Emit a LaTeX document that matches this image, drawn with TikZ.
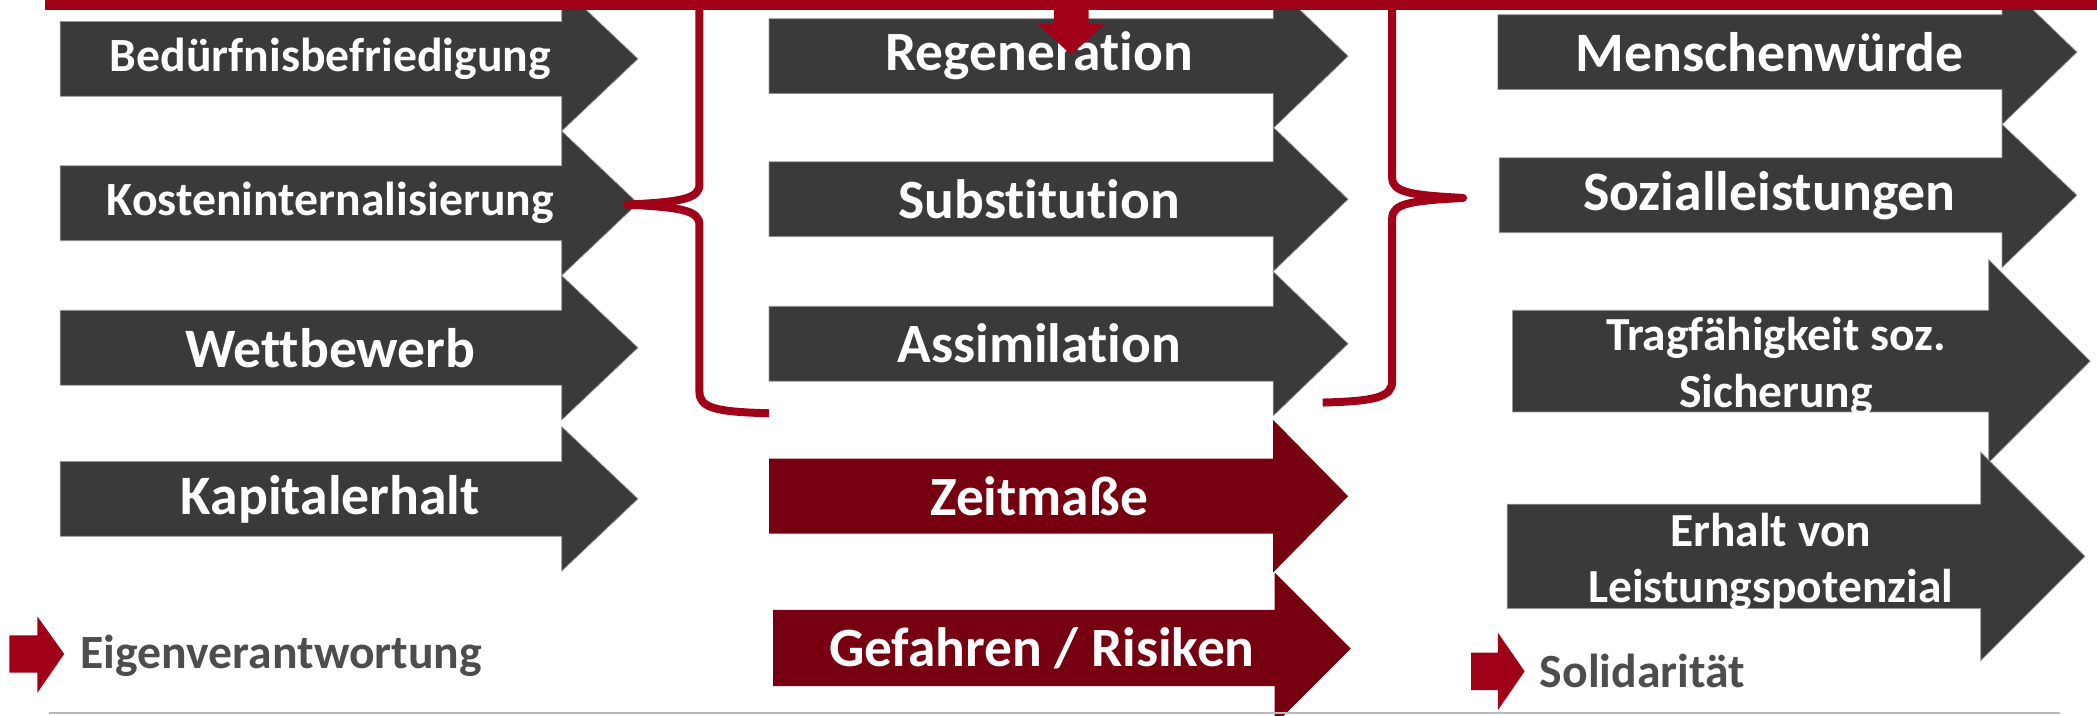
\documentclass[tikz,border=0pt]{standalone}
\usepackage{fontspec}
\setmainfont{Carlito}[Ligatures={NoCommon,NoRare}]
\definecolor{grau}{RGB}{58,58,58}
\definecolor{rot}{RGB}{160,0,24}
\definecolor{dunkelrot}{RGB}{118,0,16}
\definecolor{schrift}{RGB}{77,77,77}

\begin{document}
\begin{tikzpicture}[x=0.02cm,y=-0.02cm,
    txt/.style={text=white,align=center,inner sep=0pt},
    rand/.style={draw=gray!80,line width=0.3pt},
    klammer/.style={rot,line width=3.4pt,line join=round}]
  \useasboundingbox (0,0) rectangle (1568,535);
  \clip (0,0) rectangle (1568,535);

  % linke Spalte
  \foreach \n/\y/\s/\t in {bed/44/20.3/Bedürfnisbefriedigung,kost/152/20.3/Kosteninternalisierung,
      wett/260/23.7/Wettbewerb,kap/373/23.7/Kapitalerhalt} {
    \filldraw[grau,rand] (45,\y-28) -- (420,\y-28) -- (420,\y-54) -- (477,\y)
      -- (420,\y+54) -- (420,\y+28) -- (45,\y+28) -- cycle;
    \node[txt,font=\bfseries\fontsize{\s}{\s}\selectfont] (\n) at (247,\y) {\t};
  }

  % mittlere Spalte
  \foreach \n/\y/\t in {reg/42/Regeneration,sub/149/Substitution,ass/257/Assimilation} {
    \filldraw[grau,rand] (575,\y-28) -- (952,\y-28) -- (952,\y-54) -- (1008,\y)
      -- (952,\y+54) -- (952,\y+28) -- (575,\y+28) -- cycle;
    \node[txt,font=\bfseries\fontsize{23.6}{23.6}\selectfont] (\n) at (777,\y) {\t};
  }
  \fill[dunkelrot] (575,343) -- (952,343) -- (952,314) -- (1008,371)
    -- (952,428) -- (952,399) -- (575,399) -- cycle;
  \node[txt,font=\bfseries\fontsize{23.6}{23.6}\selectfont] (zeit) at (777,371) {Zeitmaße};
  \fill[dunkelrot] (578,456) -- (953,456) -- (953,428) -- (1010,485)
    -- (953,542) -- (953,513) -- (578,513) -- cycle;
  \node[txt,font=\bfseries\fontsize{23.6}{23.6}\selectfont] (gef) at (779,485) {Gefahren / Risiken};

  % rechte Spalte
  \filldraw[grau,rand] (1120,11) -- (1497,11) -- (1497,-15) -- (1553,39)
    -- (1497,93) -- (1497,67) -- (1120,67) -- cycle;
  \node[txt,font=\bfseries\fontsize{23.7}{23.7}\selectfont] (mensch) at (1323,39) {Menschenwürde};
  \filldraw[grau,rand] (1121,118) -- (1497,118) -- (1497,93) -- (1553,146)
    -- (1497,200) -- (1497,174) -- (1121,174) -- cycle;
  \node[txt,font=\bfseries\fontsize{23.7}{23.7}\selectfont] (sozial) at (1323,146) {Sozialleistungen};
  \filldraw[grau,rand] (1131,232) -- (1487,232) -- (1487,194) -- (1563,270)
    -- (1487,346) -- (1487,308) -- (1131,308) -- cycle;
  \node[txt,font=\bfseries\fontsize{20.2}{24}\selectfont] (trag) at (1328,274) {Tragfähigkeit soz.\\Sicherung};
  \filldraw[grau,rand] (1127,377) -- (1481,377) -- (1481,338) -- (1559,416)
    -- (1481,494) -- (1481,455) -- (1127,455) -- cycle;
  \node[txt,font=\bfseries\fontsize{20.2}{24}\selectfont] (erhalt) at (1324,420) {Erhalt von\\Leistungspotenzial};

  % Balken, Pfeil und Klammern
  \fill[rot] (34,0) rectangle (1568,7.5);
  \fill[rot] (788,0) -- (814,0) -- (814,18) -- (826,18) -- (801,41) -- (776,18) -- (788,18) -- cycle;
  \draw[klammer] (523,4) -- (523,138) .. controls (523,149) and (508,151) .. (469,153)
    .. controls (508,155) and (523,157) .. (523,168) -- (523,293)
    .. controls (523,305) and (535,308) .. (575,309);
  \draw[klammer] (1041,4) -- (1041,133) .. controls (1041,144) and (1056,146) .. (1094,148)
    .. controls (1056,150) and (1041,152) .. (1041,163) -- (1041,285)
    .. controls (1041,297) and (1028,300) .. (989,301);

  % Legende
  \fill[rot] (7,475) -- (28,475) -- (28,461) -- (48,489) -- (28,518) -- (28,503) -- (7,503) -- cycle;
  \node[anchor=base west,inner sep=0pt,text=schrift,font=\bfseries\fontsize{20.3}{20.3}\selectfont]
    (eigen) at (60,500) {Eigenverantwortung};
  \fill[rot] (1100,488) -- (1120,488) -- (1120,473) -- (1140,502) -- (1120,531) -- (1120,516) -- (1100,516) -- cycle;
  \node[anchor=base west,inner sep=0pt,text=schrift,font=\bfseries\fontsize{20.3}{20.3}\selectfont]
    (solid) at (1151,514) {Solidarität};
  \draw[gray!55,line width=0.9pt] (37,533) -- (1540,533);
\end{tikzpicture}
\end{document}
